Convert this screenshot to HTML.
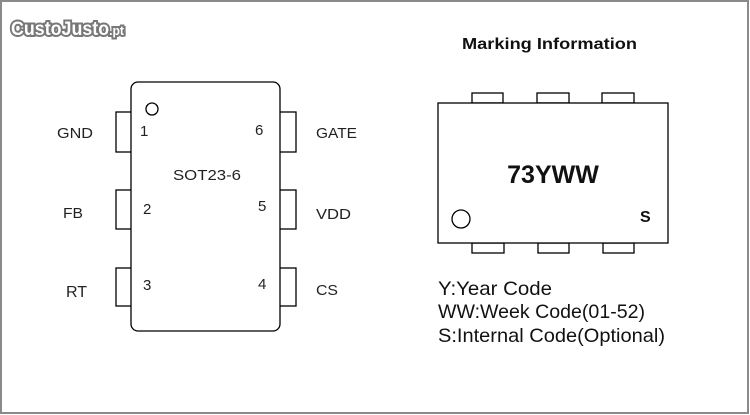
<!DOCTYPE html>
<html><head><style>
html,body{margin:0;padding:0;background:#fff;}
svg{display:block;}
text{font-family:"Liberation Sans",Arial,sans-serif;}
</style></head><body>
<svg width="750" height="415" viewBox="0 0 750 415" xmlns="http://www.w3.org/2000/svg">
<rect x="1" y="1" width="747" height="412" fill="#fff" stroke="#8a8a8a" stroke-width="2"/>
<text x="11" y="35" font-size="19" font-weight="bold" fill="#fff" stroke="#777" stroke-width="4" paint-order="stroke" textLength="113" lengthAdjust="spacingAndGlyphs">CustoJusto<tspan font-size="13">.pt</tspan></text>
<!-- left package -->
<g fill="#fff" stroke="#000" stroke-width="1.3">
<rect x="116" y="112" width="16" height="40"/>
<rect x="116" y="190" width="16" height="39"/>
<rect x="116" y="268" width="16" height="38"/>
<rect x="279" y="112" width="17" height="40"/>
<rect x="279" y="190" width="17" height="39"/>
<rect x="279" y="268" width="17" height="38"/>
<rect x="131" y="82" width="149" height="249" rx="7"/>
<circle cx="152" cy="109" r="6"/>
</g>
<g font-size="15" fill="#222">
<text x="57" y="138" textLength="36" lengthAdjust="spacingAndGlyphs">GND</text>
<text x="63" y="218" textLength="20" lengthAdjust="spacingAndGlyphs">FB</text>
<text x="66" y="297" font-family="Liberation Serif,serif" font-size="16">RT</text>
<text x="316" y="138" textLength="41" lengthAdjust="spacingAndGlyphs">GATE</text>
<text x="316" y="219" textLength="35" lengthAdjust="spacingAndGlyphs">VDD</text>
<text x="316" y="295" textLength="22" lengthAdjust="spacingAndGlyphs">CS</text>
<text x="140" y="136">1</text>
<text x="143" y="214">2</text>
<text x="143" y="290">3</text>
<text x="255" y="135">6</text>
<text x="258" y="211">5</text>
<text x="258" y="289">4</text>
<text x="173" y="180" textLength="68" lengthAdjust="spacingAndGlyphs">SOT23-6</text>
</g>
<!-- right package -->
<text x="462" y="49" font-size="16" font-weight="bold" fill="#111" textLength="175" lengthAdjust="spacingAndGlyphs">Marking Information</text>
<g fill="#fff" stroke="#000" stroke-width="1.3">
<rect x="472" y="93" width="31" height="10"/>
<rect x="537" y="93" width="32" height="10"/>
<rect x="602" y="93" width="32" height="10"/>
<rect x="472" y="243" width="32" height="10"/>
<rect x="538" y="243" width="31" height="10"/>
<rect x="603" y="243" width="31" height="10"/>
<rect x="438" y="103" width="230" height="140"/>
<circle cx="461" cy="219" r="9"/>
</g>
<text x="553" y="183" font-size="25" font-weight="bold" text-anchor="middle" fill="#111">73YWW</text>
<text x="640" y="222" font-size="16" font-weight="bold" fill="#111">S</text>
<g font-size="19.5" fill="#111">
<text x="438" y="295" textLength="114" lengthAdjust="spacingAndGlyphs">Y:Year Code</text>
<text x="438" y="318" textLength="207" lengthAdjust="spacingAndGlyphs">WW:Week Code(01-52)</text>
<text x="438" y="342" textLength="227" lengthAdjust="spacingAndGlyphs">S:Internal Code(Optional)</text>
</g>
</svg>
</body></html>
